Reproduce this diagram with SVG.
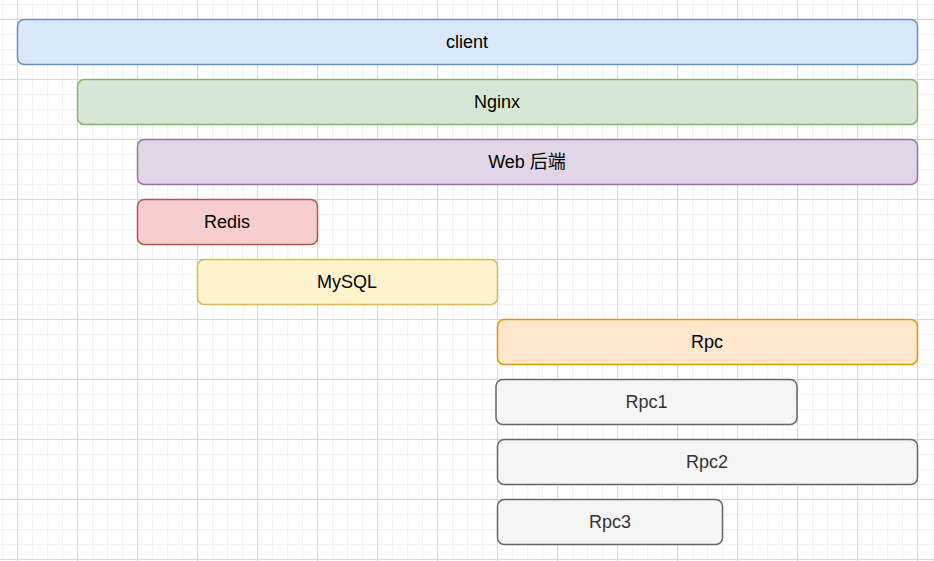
<svg xmlns="http://www.w3.org/2000/svg" width="934" height="561" viewBox="0 0 934 561">
<defs>
<pattern id="minor" x="2" y="4" width="15" height="15" patternUnits="userSpaceOnUse">
<path d="M0.5 0 V15 M0 0.5 H15" fill="none" stroke="#f2f2f2" stroke-width="1.5"/>
</pattern>
<pattern id="major" x="17" y="19" width="60" height="60" patternUnits="userSpaceOnUse">
<path d="M0.5 0 V60 M0 0.5 H60" fill="none" stroke="#d9d9d9" stroke-width="1"/>
</pattern>
<style>
.box{stroke-width:1.5}
.lbl{font-family:"Liberation Sans",Arial,"Noto Sans CJK SC",sans-serif;font-size:18px;text-anchor:middle;fill:#000}
.gray{fill:#333333}
</style>
</defs>
<rect width="934" height="561" fill="#ffffff"/>
<rect width="934" height="561" fill="url(#minor)"/>
<rect width="934" height="561" fill="url(#major)"/>
<g id="connectors"></g>
<g id="client"><rect class="box" x="17.5" y="19.5" width="900" height="45" rx="6.75" fill="#dae8fc" stroke="#6c8ebf"/><text class="lbl" x="467" y="48.3">client</text></g>
<g id="nginx"><rect class="box" x="77.5" y="79.5" width="840" height="45" rx="6.75" fill="#d5e8d4" stroke="#82b366"/><text class="lbl" x="497" y="108.3">Nginx</text></g>
<g id="web"><rect class="box" x="137.5" y="139.5" width="780" height="45" rx="6.75" fill="#e1d5e7" stroke="#9673a6"/><text class="lbl" x="527" y="168.3">Web 后端</text></g>
<g id="redis"><rect class="box" x="137.5" y="199.5" width="180" height="45" rx="6.75" fill="#f8cecc" stroke="#b85450"/><text class="lbl" x="227" y="228.3">Redis</text></g>
<g id="mysql"><rect class="box" x="197.5" y="259.5" width="300" height="45" rx="6.75" fill="#fff2cc" stroke="#d6b656"/><text class="lbl" x="347" y="288.3">MySQL</text></g>
<g id="rpc"><rect class="box" x="497.5" y="319.5" width="420" height="45" rx="6.75" fill="#ffe6cc" stroke="#d79b00"/><text class="lbl" x="707" y="348.3">Rpc</text></g>
<g id="rpc1"><rect class="box" x="496" y="379.5" width="301" height="45" rx="6.75" fill="#f5f5f5" stroke="#666666"/><text class="lbl gray" x="646.5" y="408.3">Rpc1</text></g>
<g id="rpc2"><rect class="box" x="497.5" y="439.5" width="420" height="45" rx="6.75" fill="#f5f5f5" stroke="#666666"/><text class="lbl gray" x="707" y="468.3">Rpc2</text></g>
<g id="rpc3"><rect class="box" x="497.5" y="499.5" width="225" height="45" rx="6.75" fill="#f5f5f5" stroke="#666666"/><text class="lbl gray" x="610" y="528.3">Rpc3</text></g>
</svg>
